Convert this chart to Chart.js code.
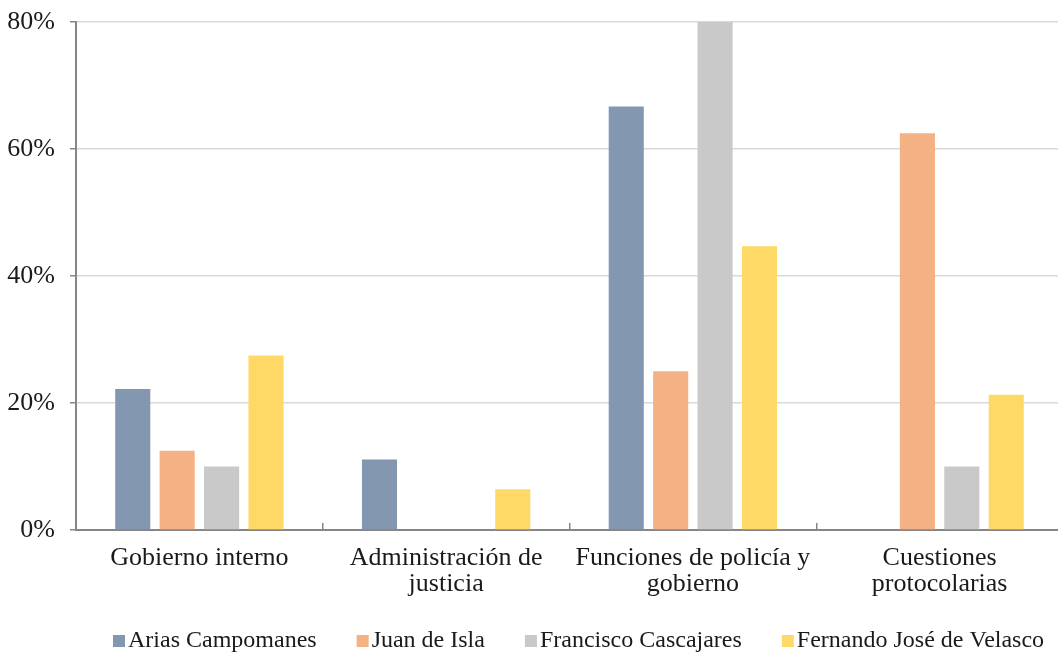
<!DOCTYPE html>
<html>
<head>
<meta charset="utf-8">
<script src="https://cdn.jsdelivr.net/npm/chart.js@4/dist/chart.umd.min.js"></script>
<style>
  html, body { margin: 0; padding: 0; background: #fff; overflow: hidden; }
  #wrap { width: 1066px; height: 652px; }
</style>
</head>
<body>
<div id="wrap"><canvas id="chart"></canvas></div>
<script>
// categories and series (percent of each author's items)
const categories = [
  ['Gobierno interno'],
  ['Administración de', 'justicia'],
  ['Funciones de policía y', 'gobierno'],
  ['Cuestiones', 'protocolarias'],
];
const seriesNames = ['Arias Campomanes', 'Juan de Isla', 'Francisco Cascajares', 'Fernando José de Velasco'];
const ariasCampomanes = [22.2, 11.1, 66.7, 0];
const juanDeIsla = [12.5, 0, 25.0, 62.5];
const franciscoCascajares = [10.0, 0, 80.0, 10.0];
const fernandoVelasco = [27.5, 6.4, 44.7, 21.3];
const yTicks = [0, 20, 40, 60, 80];

const COLORS = ['#8497b0', '#f4b183', '#c9c9c9', '#ffd966'];
const FONT_FAMILY = '"Liberation Serif", "Times New Roman", serif';
const TEXT = '#1a1a1a';

// legend row drawn under the category labels
const bottomLegend = {
  id: 'bottomLegend',
  afterDraw(chart) {
    const ctx = chart.ctx;
    ctx.save();
    ctx.font = '24px ' + FONT_FAMILY;
    ctx.textBaseline = 'middle';
    const y = 641;
    let x = 113;
    chart.data.datasets.forEach(ds => {
      ctx.fillStyle = ds.backgroundColor;
      ctx.fillRect(x, y - 6, 12, 12);
      ctx.fillStyle = TEXT;
      ctx.fillText(ds.label, x + 15, y);
      x += 15 + ctx.measureText(ds.label).width + 40;
    });
    ctx.restore();
  }
};

const values = [ariasCampomanes, juanDeIsla, franciscoCascajares, fernandoVelasco];

new Chart(document.getElementById('chart'), {
  type: 'bar',
  data: {
    labels: categories,
    datasets: seriesNames.map((name, i) => ({
      label: name,
      data: values[i],
      backgroundColor: COLORS[i],
      borderWidth: 0,
      categoryPercentage: 0.72,
      barPercentage: 0.79,
    })),
  },
  options: {
    responsive: true,
    maintainAspectRatio: false,
    animation: false,
    layout: { padding: { top: 22, right: 3, left: 0, bottom: 0 } },
    plugins: {
      legend: { display: false },
      tooltip: { enabled: false },
    },
    scales: {
      x: {
        grid: {
          offset: true,
          drawOnChartArea: false,
          tickLength: -7,
          color: '#868686',
          lineWidth: 1.5,
        },
        border: { color: '#868686', width: 2 },
        ticks: {
          color: TEXT,
          padding: 22,
          maxRotation: 0,
          font: { family: FONT_FAMILY, size: 26, lineHeight: 1.0 },
        },
        afterFit(scale) { scale.height = 122; },
      },
      y: {
        min: 0,
        max: 80,
        afterBuildTicks(scale) { scale.ticks = yTicks.map(v => ({ value: v })); },
        grid: {
          color: '#d9d9d9',
          lineWidth: 1.5,
          tickLength: 6,
          tickColor: '#868686',
        },
        border: { color: '#868686', width: 2 },
        ticks: {
          color: TEXT,
          padding: 15,
          font: { family: FONT_FAMILY, size: 26 },
          callback: v => v + '%',
        },
        afterFit(scale) {
          scale.width = 76;
          scale.paddingTop = 0;
          scale.paddingBottom = 0;
        },
      },
    },
  },
  plugins: [bottomLegend],
});
</script>
</body>
</html>
